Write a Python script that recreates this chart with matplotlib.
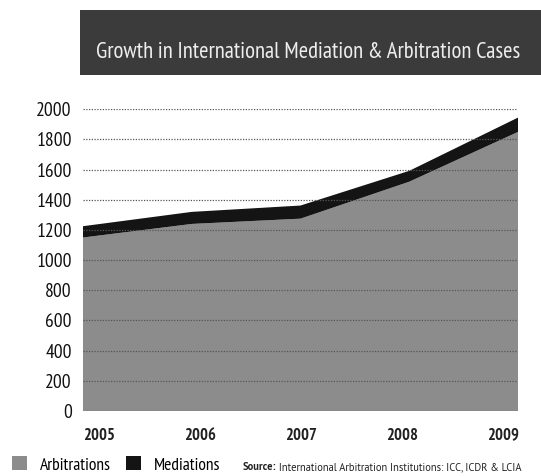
import matplotlib
matplotlib.use("Agg")
import matplotlib.pyplot as plt
import matplotlib.transforms as mtransforms
from matplotlib.patches import Rectangle

YEARS = ["2005", "2006", "2007", "2008", "2009"]
ARBITRATIONS = [1150, 1240, 1275, 1520, 1850]
MEDIATIONS = [75, 80, 87, 72, 95]
Y_TICKS = [0, 200, 400, 600, 800, 1000, 1200, 1400, 1600, 1800, 2000]

TITLE = "Growth in International Mediation & Arbitration Cases"
SERIES_LABELS = ["Arbitrations", "Mediations"]
SOURCE_HEAD = "Source:"
SOURCE_TEXT = " International Arbitration Institutions: ICC, ICDR & LCIA"

GRAY = "#8c8c8c"
BLACK = "#141414"
BOX = "#3b3b3b"

NARROW = ["PT Sans Narrow", "Roboto Condensed", "DejaVu Sans"]
REGULAR = ["PT Sans", "Open Sans", "DejaVu Sans"]
plt.rcParams["font.family"] = NARROW

W, H = 541, 476
fig = plt.figure(figsize=(W / 100, H / 100), dpi=100)
fig.patch.set_facecolor("white")

ax = fig.add_axes([83 / W, 1 - 411 / H, (518 - 83) / W, (411 - 109.3) / H])
x = list(range(len(YEARS)))
polys = ax.stackplot(x, ARBITRATIONS, MEDIATIONS, colors=[GRAY, BLACK],
                     labels=SERIES_LABELS, linewidth=0)

ax.set_xlim(0, len(YEARS) - 1)
ax.set_ylim(0, 2000)
ax.set_yticks(Y_TICKS)
ax.set_yticklabels([str(v) for v in Y_TICKS], fontsize=14, color="#111111")
ax.set_xticks(x)
ax.set_xticklabels(YEARS, fontsize=12, fontweight="bold", color="#222222")
ax.tick_params(axis="both", length=0)
ax.tick_params(axis="y", pad=8)
ax.tick_params(axis="x", pad=12)

# year labels sit a bit inside the data positions, like the original
for i, lab in enumerate(ax.get_xticklabels()):
    dx = (16 - 7.85 * i) / 100
    lab.set_transform(lab.get_transform() + mtransforms.ScaledTranslation(dx, 0, fig.dpi_scale_trans))

for s in ax.spines.values():
    s.set_visible(False)
ax.set_axisbelow(False)
ax.grid(axis="y", color="#555555", linestyle=(0, (1, 1.2)), linewidth=0.9)
ax.grid(axis="x", visible=False)

# title banner
fig.patches.append(Rectangle((80 / W, 1 - 75 / H), 1 - 80 / W, 65 / H,
                             transform=fig.transFigure, facecolor=BOX,
                             edgecolor="none", zorder=0))
fig.text(308 / W, 1 - 53 / H, TITLE, ha="center", va="center",
         fontsize=16.3, color="#eeeeee")

fig.legend(handles=polys, labels=SERIES_LABELS, loc="center left",
           bbox_to_anchor=(11.7 / W, 1 - 465 / H), ncol=2, frameon=False,
           prop={"size": 12.6}, handlelength=0.85,
           handleheight=0.85, handletextpad=0.75, columnspacing=0.9,
           borderaxespad=0, borderpad=0)

src = fig.text(243 / W, 1 - 467 / H, SOURCE_HEAD, fontsize=7.6, fontweight="bold",
               family=REGULAR, ha="left", va="center", color="#222222")
ax.annotate(SOURCE_TEXT, xy=(1, 0.5), xycoords=src, ha="left", va="center",
            fontsize=7.6, family=REGULAR, color="#222222", annotation_clip=False)

fig.savefig("out.png", dpi=100, facecolor="white")
